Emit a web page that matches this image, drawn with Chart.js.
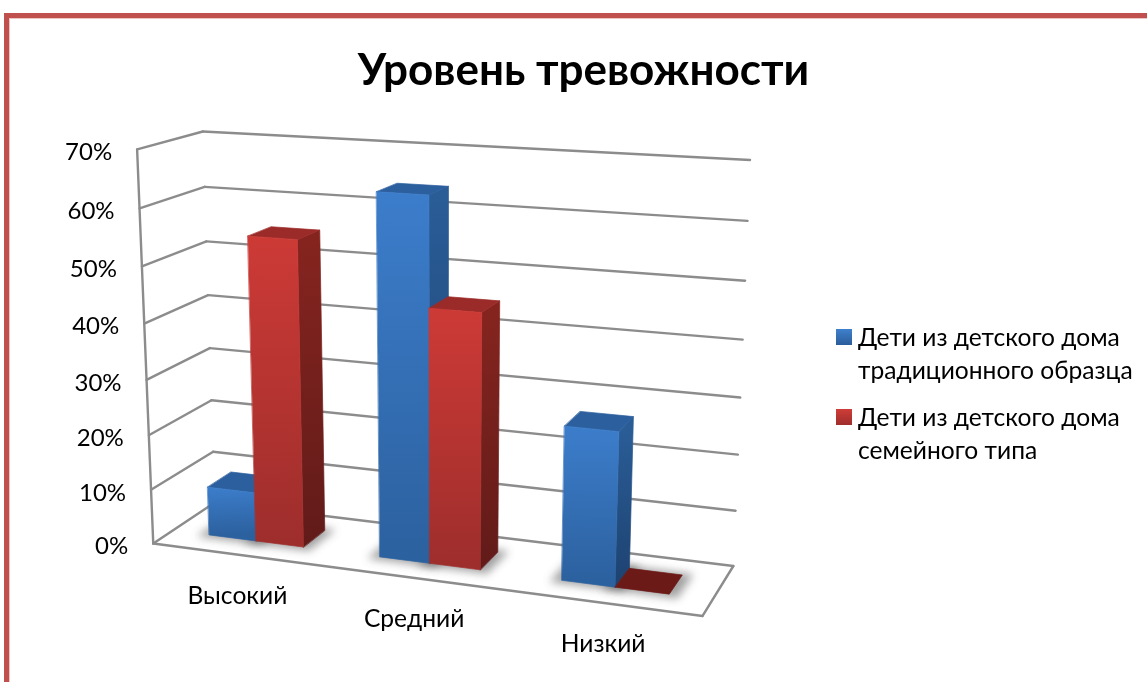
<!DOCTYPE html>
<html lang="ru">
<head>
<meta charset="utf-8">
<style>html,body{margin:0;padding:0;background:#fff}canvas{display:block}</style>
<script src="https://cdn.jsdelivr.net/npm/chart.js@4"></script>
</head>
<body>
<canvas id="c" width="1147" height="682"></canvas>
<script>
const categories = ['Высокий', 'Средний', 'Низкий'];
const seriesNames = ['Дети из детского дома традиционного образца', 'Дети из детского дома семейного типа'];
const legendLines = [['Дети из детского дома', 'традиционного образца'], ['Дети из детского дома', 'семейного типа']];
const traditional = [9, 64, 27];
const familyType = [55, 45, 0];
const chartTitle = 'Уровень тревожности';

const FONT = 'Lato, Carlito, "Open Sans", sans-serif';
const palette = [
  {front: ['#3c7dcb', '#2c619f'], side: ['#2a5c96', '#1d4270'], top: '#2c5f9e', flat: '#1d4270', swatch: ['#3f80cd', '#2a5d9a']},
  {front: ['#cd3a36', '#9e2e2c'], side: ['#85241f', '#611b19'], top: '#9b2b28', flat: '#6b1a17', swatch: ['#cf3c38', '#9e2e2c']}
];

// Camera of the 3-D view: [u across, w up, d into the picture] -> screen, fitted below
const viewCorners = [
  [0,0,0, 153,543],[1,0,0, 703,616],[1,0,1, 733,566],[0,0,1, 215,503],
  [0,1,0, 137,150],[0,1,1, 203,131],[1,1,1, 750,160]
];
const barDepth = [0.31, 0.70];

function fitCamera(pts){
  const n = 11, A = Array.from({length:n},()=>new Array(n+1).fill(0));
  const add = r => { for(let i=0;i<n;i++){ for(let j=0;j<n;j++) A[i][j]+=r[i]*r[j]; A[i][n]+=r[i]*r[11]; } };
  for(const [X,Y,Z,px,py] of pts){
    const x=px/1000,y=py/1000;
    add([X,Y,Z,1,0,0,0,0,-x*X,-x*Y,-x*Z,x]);
    add([0,0,0,0,X,Y,Z,1,-y*X,-y*Y,-y*Z,y]);
  }
  for(let i=0;i<n;i++){
    let m=i; for(let k=i+1;k<n;k++) if(Math.abs(A[k][i])>Math.abs(A[m][i])) m=k;
    [A[i],A[m]]=[A[m],A[i]];
    for(let k=0;k<n;k++){ if(k===i) continue; const f=A[k][i]/A[i][i]; for(let j=i;j<=n;j++) A[k][j]-=f*A[i][j]; }
  }
  return A.map((r,i)=>r[n]/r[i]);
}
const cam = fitCamera(viewCorners);
function project(u,w,d){
  const s = cam[8]*u+cam[9]*w+cam[10]*d+1;
  return [1000*(cam[0]*u+cam[1]*w+cam[2]*d+cam[3])/s, 1000*(cam[4]*u+cam[5]*w+cam[6]*d+cam[7])/s];
}

function poly(ctx, pts, fill){
  ctx.beginPath();
  pts.forEach((p,i)=> i?ctx.lineTo(p[0],p[1]):ctx.moveTo(p[0],p[1]));
  ctx.closePath();
  ctx.fillStyle = fill; ctx.fill();
  ctx.strokeStyle = fill; ctx.lineWidth = 0.7; ctx.stroke();
}
function line(ctx, a, b){
  ctx.beginPath(); ctx.moveTo(a[0],a[1]); ctx.lineTo(b[0],b[1]); ctx.stroke();
}
function grad(ctx, a, b, cols){
  const g = ctx.createLinearGradient(a[0],a[1],b[0],b[1]);
  g.addColorStop(0,cols[0]); g.addColorStop(1,cols[1]);
  return g;
}

const scene3d = {
  id:'scene3d',
  beforeDraw(chart){
    const ctx = chart.ctx;
    ctx.save();
    ctx.fillStyle='#fff'; ctx.fillRect(0,0,chart.width,chart.height);
    ctx.fillStyle='#c0504d';
    ctx.fillRect(4,13,chart.width-4,5);
    ctx.fillRect(4,13,5,chart.height-13);
    ctx.fillStyle='#ecc4c3';
    ctx.fillRect(9,18,chart.width-9,1);
    ctx.fillRect(9,18,1,chart.height-18);
    ctx.restore();
  },
  beforeDatasetsDraw(chart){
    const ctx = chart.ctx, a = chart.chartArea, xS = chart.scales.x, yS = chart.scales.y;
    const U = px => (px-a.left)/(a.right-a.left);
    const W = px => (a.bottom-px)/(a.bottom-a.top);
    ctx.save();
    // gridlines on the walls
    ctx.strokeStyle='#8c8c8c'; ctx.lineWidth=2.4; ctx.lineJoin='round'; ctx.lineCap='round';
    yS.ticks.forEach(t=>{
      const w = W(yS.getPixelForValue(t.value));
      const p0=project(0,w,0),p1=project(0,w,1),p2=project(1,w,1);
      line(ctx,p0,p1); line(ctx,p1,p2);
    });
    line(ctx,project(0,0,0),project(0,1,0));
    line(ctx,project(0,0,0),project(1,0,0));
    line(ctx,project(1,0,0),project(1,0,1));
    // shadows on the floor
    const bars=[];
    chart.data.datasets.forEach((ds,si)=>{
      chart.getDatasetMeta(si).data.forEach((el,ci)=>bars.push({el,si,ci,val:ds.data[ci]}));
    });
    ctx.save();
    ctx.filter='blur(4px)';
    bars.forEach(({el})=>{
      const u0=U(el.x-el.width/2)-0.016,u1=U(el.x+el.width/2)+0.016,d0=barDepth[0]-0.05,d1=barDepth[1]+0.03;
      poly(ctx,[project(u0,0,d0),project(u1,0,d0),project(u1,0,d1),project(u0,0,d1)],'rgba(70,70,70,.5)');
    });
    ctx.restore();
    // bars, left to right
    bars.sort((p,q)=>p.ci-q.ci||p.si-q.si).forEach(({el,si,val})=>{
      const pal=palette[si];
      const u0=U(el.x-el.width/2),u1=U(el.x+el.width/2),w=W(el.y),d0=barDepth[0],d1=barDepth[1];
      const fb0=project(u0,0,d0),fb1=project(u1,0,d0),ft0=project(u0,w,d0),ft1=project(u1,w,d0);
      const bb1=project(u1,0,d1),bt0=project(u0,w,d1),bt1=project(u1,w,d1);
      if(val>0){
        poly(ctx,[fb1,ft1,bt1,bb1],grad(ctx,ft1,fb1,pal.side));
        poly(ctx,[ft0,ft1,bt1,bt0],pal.top);
        poly(ctx,[fb0,fb1,ft1,ft0],grad(ctx,ft0,fb0,pal.front));
      } else {
        poly(ctx,[ft0,ft1,bt1,bt0],pal.flat);
      }
    });
    // axis labels
    ctx.fillStyle='#000'; ctx.textBaseline='middle';
    ctx.font='24px '+FONT;
    ctx.textAlign='right';
    yS.ticks.forEach(t=>{
      const p=project(0,W(yS.getPixelForValue(t.value)),0);
      ctx.fillText(t.label,p[0]-25,p[1]+3);
    });
    ctx.font='24.6px '+FONT;
    ctx.textAlign='center';
    categories.forEach((c,i)=>{
      const p=project(U(xS.getPixelForValue(i)),0,0);
      ctx.fillText(c,p[0],p[1]+41.5);
    });
    // legend
    ctx.textAlign='left';
    legendLines.forEach((lines,i)=>{
      const top=329+i*80;
      ctx.fillStyle=grad(ctx,[0,top],[0,top+16],palette[i].swatch);
      ctx.fillRect(836,top,16,16);
      ctx.fillStyle='#000';
      lines.forEach((l,j)=>ctx.fillText(l,858,top+9+j*33));
    });
    ctx.restore();
    return false;
  }
};

new Chart(document.getElementById('c'),{
  type:'bar',
  data:{
    labels:categories,
    datasets:[
      {label:seriesNames[0],data:traditional,backgroundColor:palette[0].front[0]},
      {label:seriesNames[1],data:familyType,backgroundColor:palette[1].front[0]}
    ]
  },
  options:{
    responsive:false,animation:false,
    categoryPercentage:0.56,barPercentage:1,
    layout:{padding:{left:20,right:0,top:0,bottom:0}},
    scales:{
      x:{display:false},
      y:{display:false,min:0,max:70,ticks:{stepSize:10,callback:v=>v+'%'}}
    },
    plugins:{
      legend:{display:false},tooltip:{enabled:false},
      title:{display:true,text:chartTitle,color:'#000',font:{family:FONT,size:44,weight:'bold'},padding:{top:44,bottom:10}}
    }
  },
  plugins:[scene3d]
});
</script>
</body>
</html>
